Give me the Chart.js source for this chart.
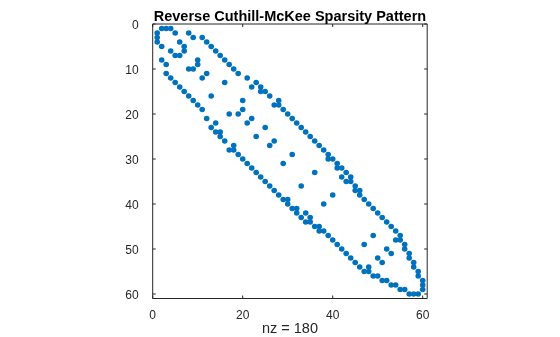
<!DOCTYPE html>
<html>
<head>
<meta charset="utf-8">
<title>Reverse Cuthill-McKee Sparsity Pattern</title>
<script src="https://cdn.jsdelivr.net/npm/chart.js@4.4.1/dist/chart.umd.min.js"></script>
<style>
  html, body { margin: 0; padding: 0; background: #fff; }
  canvas { display: block; }
</style>
</head>
<body>
<canvas id="spyChart" width="560" height="337"></canvas>
<script>
// column indices of the nonzeros in each row (row 1 first) of the reordered matrix
const rowNeighbours = [
  [2, 3, 4],    [1, 5, 8],    [1, 9, 11],   [1, 6, 12],   [2, 7, 13],
  [4, 7, 14],   [5, 6, 15],   [2, 10, 16],  [3, 10, 17],  [8, 9, 18],
  [3, 12, 19],  [4, 11, 21],  [5, 16, 23],  [6, 22, 24],  [7, 24, 25],
  [8, 13, 26],  [9, 20, 28],  [10, 27, 28], [11, 20, 29], [17, 19, 30],
  [12, 22, 31], [14, 21, 32], [13, 25, 33], [14, 15, 34], [15, 23, 35],
  [16, 27, 36], [18, 26, 37], [17, 18, 38], [19, 31, 39], [20, 39, 40],
  [21, 29, 41], [22, 41, 42], [23, 36, 43], [24, 42, 44], [25, 43, 44],
  [26, 33, 45], [27, 45, 46], [28, 40, 46], [29, 30, 47], [30, 38, 48],
  [31, 32, 49], [32, 34, 50], [33, 35, 51], [34, 35, 52], [36, 37, 53],
  [37, 38, 54], [39, 49, 55], [40, 54, 55], [41, 47, 56], [42, 52, 56],
  [43, 53, 57], [44, 50, 57], [45, 51, 58], [46, 48, 58], [47, 48, 59],
  [49, 50, 59], [51, 52, 60], [53, 54, 60], [55, 56, 60], [57, 58, 59]
];
const xTicks = [0, 20, 40, 60];
const yTicks = [0, 10, 20, 30, 40, 50, 60];
const titleText = 'Reverse Cuthill-McKee Sparsity Pattern';

const points = [];
rowNeighbours.forEach((cols, i) => {
  cols.forEach(c => points.push({ x: c, y: i + 1 }));
});
const xLabel = 'nz = ' + points.length;

const FONT = '"Liberation Sans", Arial, Helvetica, sans-serif';
const AXIS_COLOR = '#262626';

// box round the axes, inward ticks on all four sides, title and x label
const axesFrame = {
  id: 'axesFrame',
  afterDraw(chart) {
    const { ctx, chartArea: a, scales: { x, y } } = chart;
    const tl = 3;
    ctx.save();
    ctx.strokeStyle = AXIS_COLOR;
    ctx.lineWidth = 1;
    ctx.beginPath();
    ctx.rect(a.left, a.top, a.right - a.left, a.bottom - a.top);
    xTicks.forEach(v => {
      const px = x.getPixelForValue(v);
      ctx.moveTo(px, a.bottom); ctx.lineTo(px, a.bottom - tl);
      ctx.moveTo(px, a.top); ctx.lineTo(px, a.top + tl);
    });
    yTicks.forEach(v => {
      const py = y.getPixelForValue(v);
      ctx.moveTo(a.left, py); ctx.lineTo(a.left + tl, py);
      ctx.moveTo(a.right, py); ctx.lineTo(a.right - tl, py);
    });
    ctx.stroke();

    const cx = (a.left + a.right) / 2;
    ctx.textAlign = 'center';
    ctx.textBaseline = 'alphabetic';
    ctx.fillStyle = '#000';
    ctx.font = 'bold 14.5px ' + FONT;
    ctx.fillText(titleText, cx, 21);
    ctx.fillStyle = AXIS_COLOR;
    ctx.font = '14.5px ' + FONT;
    ctx.fillText(xLabel, cx, 333);
    ctx.restore();
  }
};

new Chart(document.getElementById('spyChart'), {
  type: 'scatter',
  data: {
    datasets: [{
      data: points,
      backgroundColor: '#0072BD',
      borderWidth: 0,
      pointRadius: 2.8,
      pointHoverRadius: 2.8
    }]
  },
  options: {
    responsive: false,
    animation: false,
    devicePixelRatio: 1,
    layout: { padding: { left: 0, top: 24, right: 132.8, bottom: 0 } },
    plugins: {
      legend: { display: false },
      tooltip: { enabled: false }
    },
    scales: {
      x: {
        type: 'linear',
        min: 0,
        max: 61,
        grid: { display: false },
        border: { display: false },
        afterBuildTicks: axis => { axis.ticks = xTicks.map(v => ({ value: v })); },
        afterFit: axis => { axis.height = 38.5; },
        ticks: {
          padding: 2,
          color: AXIS_COLOR,
          maxRotation: 0,
          font: { family: FONT, size: 12 }
        }
      },
      y: {
        type: 'linear',
        reverse: true,
        min: 0,
        max: 61,
        grid: { display: false },
        border: { display: false },
        afterBuildTicks: axis => { axis.ticks = yTicks.map(v => ({ value: v })); },
        afterFit: axis => { axis.width = 152.7; },
        ticks: {
          padding: 6,
          labelOffset: 2,
          color: AXIS_COLOR,
          font: { family: FONT, size: 12 }
        }
      }
    }
  },
  plugins: [axesFrame]
});
</script>
</body>
</html>
